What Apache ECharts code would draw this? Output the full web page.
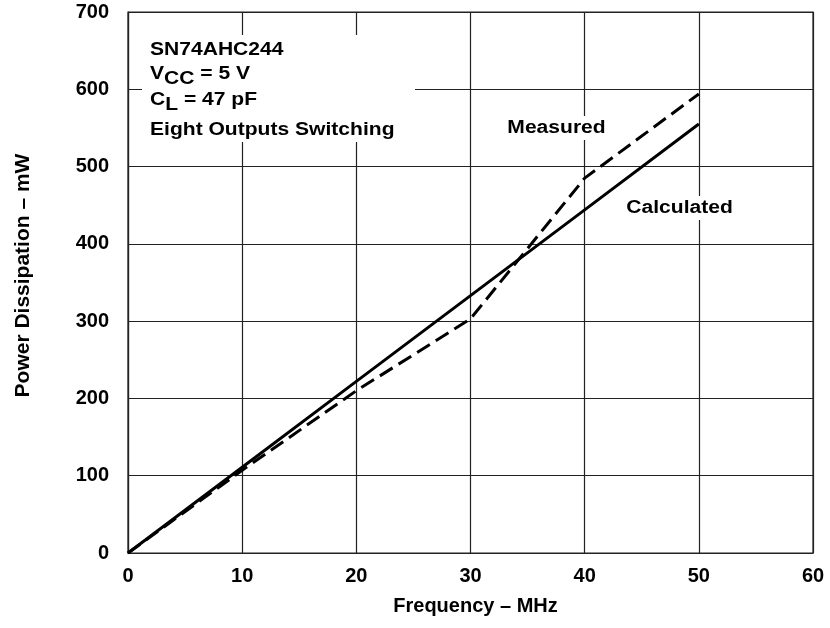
<!DOCTYPE html>
<html>
<head>
<meta charset="utf-8">
<script src="https://cdn.jsdelivr.net/npm/echarts@6/dist/echarts.min.js"></script>
<style>
  html, body { margin: 0; padding: 0; background: #fff; }
  #chart { width: 830px; height: 628px; }
</style>
</head>
<body>
<div id="chart"></div>
<script>
// frequency in MHz, power in mW
var freq = [0, 10, 20, 30, 40, 50];
var calculated = [0, 111, 222, 333, 444, 555];
var measured = [0, 107, 210, 303, 485, 594];

var xTicks = [0, 10, 20, 30, 40, 50, 60];
var yTicks = [0, 100, 200, 300, 400, 500, 600, 700];

var FONT = '"Liberation Sans", Arial, sans-serif';

function pairs(xs, ys) {
  return xs.map(function (x, i) { return [x, ys[i]]; });
}

// rich styles for the lines with subscripts
var richSub = {
  m: { fill: '#000', fontFamily: FONT, fontWeight: 'bold', fontSize: 18, lineHeight: 20, verticalAlign: 'top' },
  s: { fill: '#000', fontFamily: FONT, fontWeight: 'bold', fontSize: 18, lineHeight: 20, verticalAlign: 'top', padding: [5, 0, 0, 0] }
};

var chart = echarts.init(document.getElementById('chart'));

var option = {
  animation: false,
  backgroundColor: '#fff',
  grid: {
    left: 128,
    right: 17,
    top: 12,
    bottom: 75,
    show: true,
    borderColor: '#222',
    borderWidth: 1.2
  },
  xAxis: {
    type: 'value',
    min: xTicks[0],
    max: xTicks[xTicks.length - 1],
    interval: 10,
    name: 'Frequency – MHz',
    nameLocation: 'middle',
    nameGap: 43,
    nameTextStyle: { color: '#000', fontFamily: FONT, fontWeight: 'bold', fontSize: 20, padding: [0, 0, 0, 10] },
    axisLine: { show: true, lineStyle: { color: '#222', width: 1.2 } },
    axisTick: { show: false },
    axisLabel: { color: '#000', fontFamily: FONT, fontWeight: 'bold', fontSize: 20, margin: 13 },
    splitLine: { show: true, lineStyle: { color: '#222', width: 1.2 } }
  },
  yAxis: {
    type: 'value',
    min: yTicks[0],
    max: yTicks[yTicks.length - 1],
    interval: 100,
    name: 'Power Dissipation – mW',
    nameLocation: 'middle',
    nameGap: 94,
    nameTextStyle: { color: '#000', fontFamily: FONT, fontWeight: 'bold', fontSize: 21, padding: [0, 0, 0, 14] },
    axisLine: { show: true, lineStyle: { color: '#222', width: 1.2 } },
    axisTick: { show: false },
    axisLabel: { color: '#000', fontFamily: FONT, fontWeight: 'bold', fontSize: 20, margin: 19 },
    splitLine: { show: true, lineStyle: { color: '#222', width: 1.2 } }
  },
  series: [
    {
      name: 'Calculated',
      type: 'line',
      symbol: 'none',
      z: 3,
      lineStyle: { color: '#000', width: 3 },
      data: pairs(freq, calculated)
    },
    {
      name: 'Measured',
      type: 'line',
      symbol: 'none',
      z: 3,
      lineStyle: { color: '#000', width: 3, type: [15, 7] },
      data: pairs(freq, measured)
    }
  ],
  graphic: [
    // white box behind the conditions text
    { type: 'rect', z: 10, shape: { x: 142, y: 35, width: 273, height: 107 }, style: { fill: '#fff' } },
    {
      type: 'text', z: 11, x: 150, y: 41, scaleX: 1.17,
      style: { text: 'SN74AHC244', fill: '#000', font: 'bold 18px ' + FONT }
    },
    {
      type: 'text', z: 11, x: 150, y: 65, scaleX: 1.17,
      style: { text: '{m|V}{s|CC}{m| = 5 V}', rich: richSub }
    },
    {
      type: 'text', z: 11, x: 150, y: 91, scaleX: 1.17,
      style: { text: '{m|C}{s|L}{m| = 47 pF}', rich: richSub }
    },
    {
      type: 'text', z: 11, x: 150, y: 121, scaleX: 1.17,
      style: { text: 'Eight Outputs Switching', fill: '#000', font: 'bold 18px ' + FONT }
    },
    {
      type: 'text', z: 11, x: 505, y: 128, scaleX: 1.17,
      style: {
        text: 'Measured', fill: '#000', font: 'bold 18px ' + FONT,
        verticalAlign: 'middle', backgroundColor: '#fff', padding: [3, 2]
      }
    },
    {
      type: 'text', z: 11, x: 624, y: 208, scaleX: 1.17,
      style: {
        text: 'Calculated', fill: '#000', font: 'bold 18px ' + FONT,
        verticalAlign: 'middle', backgroundColor: '#fff', padding: [3, 2]
      }
    }
  ]
};

chart.setOption(option);
</script>
</body>
</html>
